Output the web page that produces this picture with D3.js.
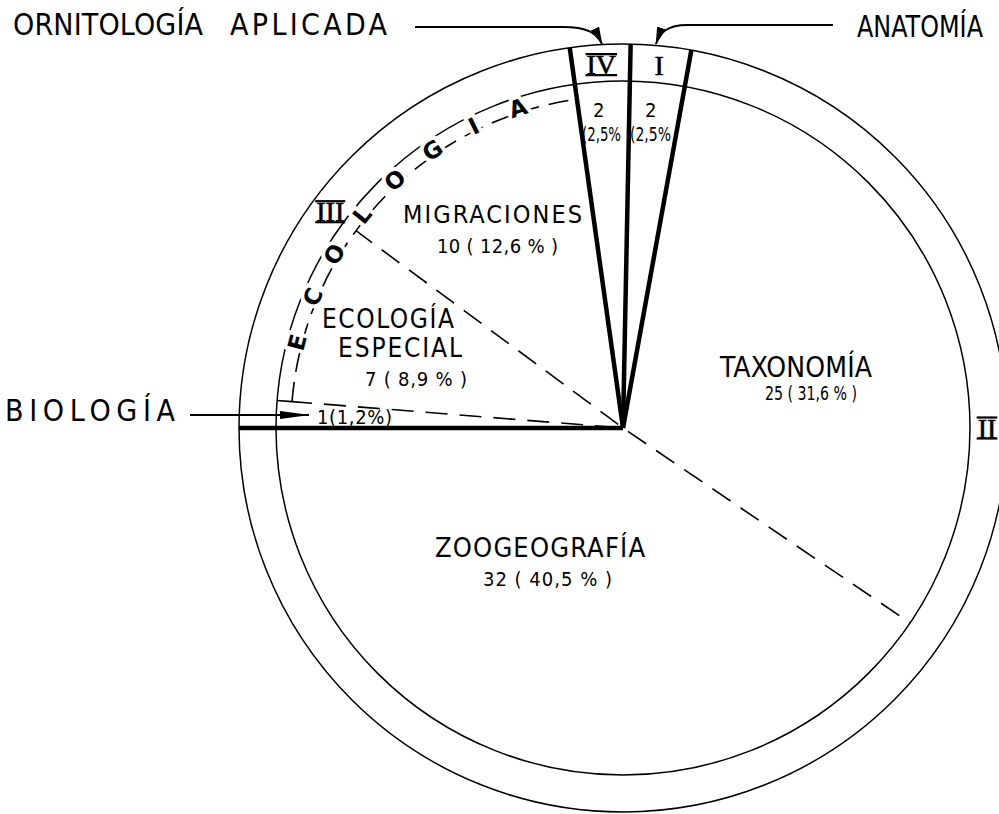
<!DOCTYPE html>
<html>
<head>
<meta charset="utf-8">
<script src="https://cdn.jsdelivr.net/npm/d3@7/dist/d3.min.js"></script>
<style>
  body { margin: 0; background: #fff; }
  svg { display: block; }
  text { font-family: "DejaVu Sans Condensed", "DejaVu Sans", sans-serif; fill: #000; }
</style>
</head>
<body>
<svg id="chart" width="999" height="814"></svg>
<script>
// data (clockwise from 12 o'clock)
const categories = ["ANATOMÍA", "TAXONOMÍA", "ZOOGEOGRAFÍA", "BIOLOGÍA", "ECOLOGÍA ESPECIAL", "MIGRACIONES", "ORNITOLOGÍA APLICADA"];
const counts = [2, 25, 32, 1, 7, 10, 2];
const percents = ["2,5", "31,6", "40,5", "1,2", "8,9", "12,6", "2,5"];
const groups = ["I", "II", "II", "III", "III", "III", "IV"];
const ecologiaSlices = ["ECOLOGÍA ESPECIAL", "MIGRACIONES"];
const ecologiaLetters = ["E", "C", "O", "L", "O", "G", "I", "A"];

const cx = 623, cy = 428, rIn = 347, rOut = 384, rEco = 332;
const svg = d3.select("#chart");
const n = counts.length;

// the drawing is turned a little so the BIOLOGÍA boundary lies flat
const turn = 1.14 * Math.PI / 180;
const arcs = d3.pie().sort(null).value(d => d)
    .startAngle(turn).endAngle(2 * Math.PI + turn)(counts);
const pt = (a, r) => [cx + r * Math.sin(a), cy - r * Math.cos(a)];
const deg = a => a * 180 / Math.PI;
const idx = name => categories.indexOf(name);

// ---- markers
const defs = svg.append("defs");
defs.append("marker").attr("id", "headLong")
    .attr("markerUnits", "userSpaceOnUse").attr("viewBox", "0 -5 30 10")
    .attr("markerWidth", 30).attr("markerHeight", 10).attr("refX", 29).attr("refY", 0)
    .attr("orient", "auto")
  .append("path").attr("d", "M0,-4L30,0L0,4Z");
defs.append("marker").attr("id", "headShort")
    .attr("markerUnits", "userSpaceOnUse").attr("viewBox", "0 -5 18 10")
    .attr("markerWidth", 18).attr("markerHeight", 10).attr("refX", 17).attr("refY", 0)
    .attr("orient", "auto")
  .append("path").attr("d", "M0,-4.5L18,0L0,4.5Z");

// ---- text labels (drawn first so the strokes sit on top)
const fmt = i => `${counts[i]} ( ${percents[i]} % )`;
const [ornit1, ornit2] = categories[6].split(" ");
const [eco1, eco2] = categories[4].split(" ");

const labels = [
  { t: ornit1, x: 13, y: 35, w: 190, s: 30 },
  { t: ornit2, x: 230, y: 35, w: 157, s: 30 },
  { t: categories[0], x: 857, y: 37, w: 126, s: 30 },
  { t: categories[3], x: 5, y: 421, w: 170, s: 30 },
  { t: categories[1], x: 720, y: 377, w: 152, s: 28 },
  { t: fmt(1), x: 765, y: 400, w: 92, s: 19 },
  { t: categories[2], x: 435, y: 557, w: 210, s: 27 },
  { t: fmt(2), x: 483, y: 586, w: 129, s: 20 },
  { t: categories[5], x: 403, y: 223, w: 179, s: 25 },
  { t: fmt(5), x: 437, y: 253, w: 121, s: 20 },
  { t: eco1, x: 322, y: 328, w: 132, s: 26 },
  { t: eco2, x: 338, y: 357, w: 124, s: 26 },
  { t: fmt(4), x: 365, y: 386, w: 102, s: 20 },
  { t: `${counts[3]}(${percents[3]}%)`, x: 317, y: 424, w: 75, s: 20 },
  { t: `${counts[6]}`, x: 593, y: 117, w: 12, s: 20 },
  { t: `(${percents[6]}%`, x: 582, y: 141, w: 39, s: 19 },
  { t: `${counts[0]}`, x: 645, y: 117, w: 12, s: 20 },
  { t: `(${percents[0]}%`, x: 630, y: 141, w: 41, s: 19 }
];

svg.append("g").selectAll("text").data(labels).join("text")
    .attr("x", d => d.x).attr("y", d => d.y)
    .attr("font-size", d => d.s)
    .text(d => d.t)
    .each(function (d) {
      const natural = this.getComputedTextLength();
      d3.select(this).attr("textLength", d.w)
        .attr("lengthAdjust", natural > d.w ? "spacingAndGlyphs" : "spacing");
    });

// ---- circles
svg.append("g").selectAll("circle").data([rIn, rOut]).join("circle")
    .attr("cx", cx).attr("cy", cy).attr("r", d => d)
    .attr("fill", "none").attr("stroke", "#000").attr("stroke-width", 1.5);

// ---- radial boundaries: thick between groups (through the ring), dashed inside a group
const bounds = arcs.map((d, i) => {
  const thick = groups[(i - 1 + n) % n] !== groups[i];
  const inEco = groups[i] === "III";
  return { a: d.startAngle, thick, r: thick ? rOut : (inEco ? rEco : rIn) };
});

svg.append("g").selectAll("line").data(bounds).join("line")
    .attr("x1", cx).attr("y1", cy)
    .attr("x2", d => pt(d.a, d.r)[0])
    .attr("y2", d => pt(d.a, d.r)[1])
    .attr("stroke", "#000")
    .attr("stroke-width", d => d.thick ? 4.5 : 1.6)
    .attr("stroke-dasharray", d => d.thick ? null : "22,12")
    .attr("stroke-dashoffset", -6);

// ---- ECOLOGÍA dashed arc with letters
const ecoArcs = arcs.filter((d, i) => ecologiaSlices.includes(categories[i]));
const a0 = d3.min(ecoArcs, d => d.startAngle), a1 = d3.max(ecoArcs, d => d.endAngle);
const p = d3.path();
p.arc(cx, cy, rEco, a0 - Math.PI / 2, a1 - Math.PI / 2);
svg.append("path").attr("d", p.toString())
    .attr("fill", "none").attr("stroke", "#000").attr("stroke-width", 1.6)
    .attr("stroke-dasharray", "20,10");
svg.append("g").selectAll("line").data([a0, a1]).join("line")
    .attr("x1", d => pt(d, rEco)[0]).attr("y1", d => pt(d, rEco)[1])
    .attr("x2", d => pt(d, rIn)[0]).attr("y2", d => pt(d, rIn)[1])
    .attr("stroke", "#000").attr("stroke-width", 1.6);

const letterAngle = d3.scalePoint().domain(d3.range(ecologiaLetters.length)).range([a0, a1]).padding(1.25);
svg.append("g").selectAll("text").data(ecologiaLetters).join("text")
    .attr("transform", (d, i) => {
      const a = letterAngle(i);
      const [x, y] = pt(a, 337);
      return `translate(${x},${y}) rotate(${deg(a)})`;
    })
    .attr("text-anchor", "middle").attr("dy", "0.36em")
    .attr("font-size", 23).attr("font-weight", "bold")
    .attr("stroke", "#fff").attr("stroke-width", 8).attr("paint-order", "stroke")
    .style("font-family", "'DejaVu Sans', sans-serif")
    .text(d => d);

// ---- roman numerals in the ring
const groupNames = Array.from(new Set(groups));
const groupSpan = g => {
  const ds = arcs.filter((d, i) => groups[i] === g);
  return [d3.min(ds, d => d.startAngle), d3.max(ds, d => d.endAngle)];
};
const ringAngle = {
  I: d3.mean(groupSpan("I")),
  II: Math.PI / 2,
  III: arcs[idx("MIGRACIONES")].startAngle,
  IV: d3.mean(groupSpan("IV"))
};
const capH = 19;
const numerals = svg.append("g");
groupNames.forEach(g => {
  const [x, y] = pt(ringAngle[g], 364);
  const t = numerals.append("text")
      .attr("x", x).attr("y", y + capH / 2)
      .attr("text-anchor", "middle")
      .attr("font-size", 28)
      .style("font-family", "'Liberation Serif', 'DejaVu Serif', serif")
      .attr("stroke", "#000").attr("stroke-width", 0.6)
      .text(g);
  if (g.length > 1) {
    const b = t.node().getBBox();
    [y - capH / 2 - 1, y + capH / 2 + 1].forEach(yy => {
      numerals.append("line")
          .attr("x1", b.x - 1).attr("x2", b.x + b.width + 1)
          .attr("y1", yy).attr("y2", yy)
          .attr("stroke", "#000").attr("stroke-width", 2.2);
    });
  }
});

// ---- callout arrows
const arrows = svg.append("g").attr("fill", "none").attr("stroke", "#000").attr("stroke-width", 2);
arrows.append("path").attr("d", "M415,27H563C587,27 597,33 602,44").attr("marker-end", "url(#headShort)");
arrows.append("path").attr("d", "M833,25H687C668,25 660,32 656,44").attr("marker-end", "url(#headShort)");
arrows.append("path").attr("d", "M190,415H309").attr("marker-end", "url(#headLong)");
</script>
</body>
</html>
